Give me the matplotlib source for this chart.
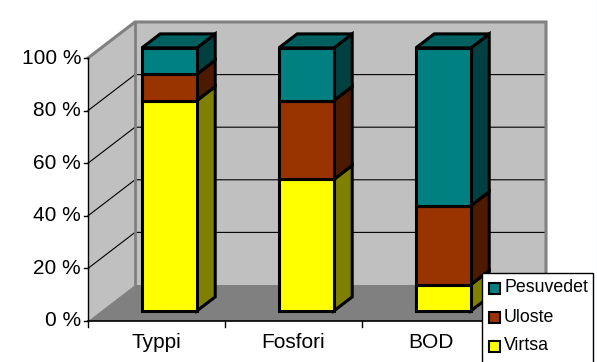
#3D style stacked percent bars
import matplotlib
matplotlib.use('Agg')
import matplotlib.pyplot as plt
from matplotlib.patches import Polygon, Rectangle

plt.rcParams['font.family']=['Liberation Sans','DejaVu Sans']

#data
categories=['Typpi','Fosfori','BOD']
virtsa=[80,50,10]
uloste=[10,30,30]
pesuvedet=[10,20,60]
series_names=['Virtsa','Uloste','Pesuvedet']
y_ticks=[0,20,40,60,80,100]

#colours: front, side, top
colors=[('#FFFF00','#808000','#808000'),
        ('#993300','#4D1A00','#4D1A00'),
        ('#008080','#004040','#006060')]

#scale: one category=137px, 100%=263px
W,H=597,362
x_px,y_px=137,2.63
x0,y0=88,321

fig=plt.figure(figsize=(W/100,H/100),dpi=100)
ax=fig.add_axes([0,0,1,1])
ax.set_xlim(-x0/x_px,(W-x0)/x_px)
ax.set_ylim(-(H-y0)/y_px,y0/y_px)
ax.axis('off')

#depth of the box in data units
dx=47/x_px
dy=36/y_px
n=len(categories)

def poly(pts,fc,z,ec='none',lw=0):
    ax.add_patch(Polygon(pts,closed=True,fc=fc,ec=ec,lw=lw,zorder=z,joinstyle='miter'))

#walls and floor
poly([(0,0),(dx,dy),(dx,100+dy),(0,100)],'#C0C0C0',1)
poly([(dx,dy),(n+dx,dy),(n+dx,100+dy),(dx,100+dy)],'#C0C0C0',1)
poly([(0,0),(dx,dy),(n+dx,dy),(n,0)],'#808080',1)

#grid
for t in y_ticks[1:-1]:
    ax.plot([0,dx,n+dx],[t,t+dy,t+dy],color='black',lw=0.8,zorder=2)
#wall edges
ax.plot([0,dx,n+dx,n+dx],[100,100+dy,100+dy,dy],color='#808080',lw=2.2,zorder=2,solid_joinstyle='miter')
ax.plot([dx,dx],[dy,100+dy],color='#808080',lw=2,zorder=2)

#axes lines and ticks
ax.plot([0,0],[0,100],color='black',lw=1,zorder=3)
ax.plot([0,n],[0,0],color='black',lw=1.2,zorder=3)
for t in y_ticks:
    ax.plot([-4/x_px,0],[t,t],color='black',lw=1,zorder=3)
    ax.text(-7/x_px,t,f'{t} %',ha='right',va='center',fontsize=15,color='black')
for i in range(n+1):
    ax.plot([i,i],[0,-6/y_px],color='black',lw=1,zorder=3)
for i,c in enumerate(categories):
    ax.text(i+0.5,-22/y_px,c,ha='center',va='center',fontsize=15,color='black')

#bars
bar_w=55/x_px
d_front=0.28
d_back=0.67
lw=2.2
for i in range(n):
    left=i+0.5-bar_w/2+dx*d_front-0.002
    right=left+bar_w
    off=dy*d_front
    sx=dx*(d_back-d_front)
    sy=dy*(d_back-d_front)
    bottom=0
    for vals,col in zip([virtsa,uloste,pesuvedet],colors):
        top=bottom+vals[i]
        b=bottom+off
        t=top+off
        poly([(right,b),(right+sx,b+sy),(right+sx,t+sy),(right,t)],col[1],5,'black',lw)
        poly([(left,b),(right,b),(right,t),(left,t)],col[0],6,'black',lw)
        bottom=top
    t=bottom+off
    poly([(left,t),(right,t),(right+sx,t+sy),(left+sx,t+sy)],colors[2][2],5,'black',lw)

#legend box, runs off the bottom of the image
def px(x,y):
    return (x-x0)/x_px,(y0-y)/y_px

bx,by=px(482,364)
bx2,by2=px(593,273)
ax.add_patch(Rectangle((bx,by),bx2-bx,by2-by,fc='white',ec='black',lw=1,zorder=8))
legend_y=[289,318,347]
for name,col,ly in zip(series_names[::-1],colors[::-1],legend_y):
    a,b=px(489,ly+5)
    c,d=px(500,ly-6)
    ax.add_patch(Rectangle((a,b),c-a,d-b,fc=col[0],ec='black',lw=1.5,zorder=9))
    tx,ty=px(504,ly-1)
    ax.text(tx,ty,name,ha='left',va='center',fontsize=12.8,color='black',zorder=9)

#thin pale line at the right edge of the image
ax.plot(*zip(px(596.5,0),px(596.5,362)),color='#A6CAF0',lw=0.8,zorder=9)

fig.savefig('out.png',dpi=100,facecolor='white')
